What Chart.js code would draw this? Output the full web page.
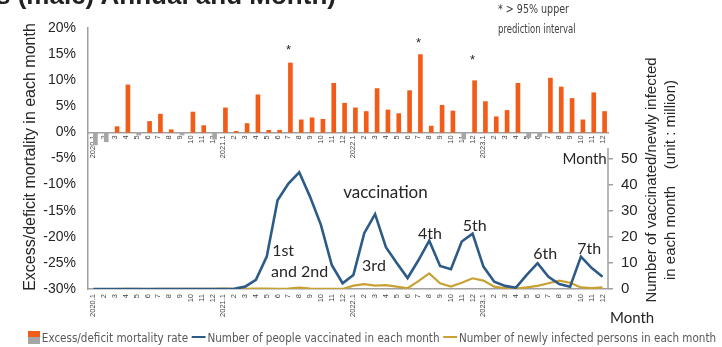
<!DOCTYPE html>
<html><head><meta charset="utf-8">
<script src="https://cdn.jsdelivr.net/npm/chart.js@4/dist/chart.umd.min.js"></script>
<style>
html,body{margin:0;padding:0;background:#fff;overflow:hidden}
#wrap{position:relative;width:722px;height:347px;overflow:hidden}
canvas{position:absolute;left:0;top:0}
.nar{font-family:"Liberation Sans Narrow","Arial Narrow","DejaVu Sans Condensed",sans-serif;position:absolute;white-space:nowrap;color:#404040;transform-origin:0 50%}
#legend{position:absolute;left:28px;top:329px;height:16px;display:flex;align-items:center;font-size:12.5px;color:#595959}
#legend .sw{display:inline-block;width:15px;height:2.5px;margin:0 2px 0 4px}
#legend .box{display:inline-block;width:13px;height:13px;margin-right:2px;background:linear-gradient(#F25C19 0 50%,#A6A6A6 50% 100%)}
#title{position:absolute;left:-4px;top:-20px;font:bold 26px "Liberation Sans",sans-serif;color:#222;white-space:nowrap}
</style></head><body>
<div id="wrap">
<canvas id="c" width="722" height="347"></canvas>
<div id="title">s (male) Annual and Month)</div>
<div class="nar fit" data-w="71" style="left:498px;top:2px;font-size:11.5px">* &gt; 95% upper</div>
<div class="nar fit" data-w="78" style="left:498px;top:22px;font-size:11.5px">prediction interval</div>
<div id="legend" class="nar fit" data-w="688">
<span class="box"></span><span>Excess/deficit mortality rate</span>
<span class="sw" style="background:#2D5B87"></span><span>Number of people vaccinated in each month</span>
<span class="sw" style="background:#C9A032"></span><span>Number of newly infected persons in each month</span>
</div>
</div>
<script>
// ---- data ----
const months = [
 '2020.1','2','3','4','5','6','7','8','9','10','11','12',
 '2021.1','2','3','4','5','6','7','8','9','10','11','12',
 '2022.1','2','3','4','5','6','7','8','9','10','11','12',
 '2023.1','2','3','4','5','6','7','8','9','10','11','12'];
// excess(+)/deficit(-) mortality rate, %
const excessRate = [
 -2.4,-1.8,1.1,9.1,-0.5,2.1,3.5,0.5,-0.5,3.9,1.3,-1.3,
 4.7,0.2,1.7,7.2,0.4,0.4,13.3,2.4,2.8,2.5,9.4,5.6,
 4.7,4.0,8.4,4.3,3.6,8.0,14.9,1.2,5.2,4.1,-1.3,9.9,
 5.9,3.0,4.2,9.4,-1.0,-0.8,10.4,8.7,6.5,2.4,7.6,4.0];
// people vaccinated in each month, million
const vaccinated = [
 0,0,0,0,0,0,0,0,0,0,0,0,
 0,0.1,0.9,3.5,12.4,34.0,40.4,44.7,35.3,24.6,9.2,2.2,
 5.4,21.4,28.7,16.0,10.0,4.2,11.0,18.5,8.8,7.6,18.2,21.2,
 8.6,2.8,1.2,0.5,5.4,9.9,4.7,1.9,0.9,12.4,8.0,4.7];
// newly infected persons in each month, million
const infected = [
 0,0,0,0.01,0.01,0,0.02,0.03,0.02,0.02,0.05,0.1,
 0.15,0.03,0.03,0.13,0.15,0.05,0.19,0.58,0.17,0.01,0.01,0.01,
 1.3,1.9,1.3,1.5,0.9,0.3,3.0,6.0,2.2,0.9,2.4,4.1,
 3.2,0.9,0.3,0.2,0.6,1.2,2.2,3.2,2.4,0.6,0.3,0.6];
// months above the 95% upper prediction interval, and the level of their asterisk (%)
const significant = [{month:18, level:16.3},{month:30, level:17.6},{month:35, level:14.4}];
const leftTicks = {min:-30, max:20, step:5};
const rightTicks = {max:50, step:10};
// wave labels: [text, month position, level in millions, font size]
const waveLabels = [
 ['vaccination',23.05,36.9,17],['1st',16.5,14.6,16],['and 2nd',16.4,6.5,16],['3rd',24.8,8.8,16],
 ['4th',29.95,21.2,16],['5th',34.1,24.2,16],['6th',40.6,13.5,16],['7th',44.65,15.4,16]];

const ORANGE='#F25C19', GREY='#A6A6A6', BLUE='#2D5B87', GOLD='#C9A032', AXIS='#A0A0A0', TXT='#262626';
const tickFont = {family:'"Liberation Sans", Arial, sans-serif'};

// squeeze narrow-font texts to the widths seen in the reference
document.querySelectorAll('.fit').forEach(el => {
  const w = el.scrollWidth, target = +el.dataset.w;
  if (w > 0) el.style.transform = 'scaleX(' + (target / w) + ')';
});

const annot = {
 id:'annot',
 afterDraw(chart){
  const {ctx, chartArea:ca, scales} = chart;
  const xs = scales.x, ys = scales.y, y2 = scales.y2;
  ctx.save();
  ctx.strokeStyle = AXIS; ctx.lineWidth = 1.5;
  ctx.beginPath(); ctx.moveTo(ca.right, y2.getPixelForValue(54)); ctx.lineTo(ca.right, y2.getPixelForValue(0)); ctx.stroke();
  ctx.fillStyle = TXT; ctx.font = '13px "Liberation Sans", sans-serif'; ctx.textAlign='center'; ctx.textBaseline='middle';
  significant.forEach(s => ctx.fillText('*', xs.getPixelForValue(s.month), ys.getPixelForValue(s.level)+3));
  ctx.textAlign='left';
  const step = xs.getPixelForValue(1)-xs.getPixelForValue(0);
  const x0 = xs.getPixelForValue(0);
  waveLabels.forEach(([t,m,v,fs]) => {
    ctx.font = fs+'px Lato, sans-serif';
    ctx.fillText(t, x0 + m*step, y2.getPixelForValue(v));
  });
  ctx.font = '15px Lato, sans-serif';
  ctx.fillText('Month', x0 + 43.3*step, y2.getPixelForValue(49.6));
  ctx.fillText('Month', ca.right + 2, 318);
  ctx.font = '16px "Liberation Sans", sans-serif';
  ctx.textAlign='center';
  ctx.translate(31, 157); ctx.rotate(-Math.PI/2);
  ctx.fillText('Excess/deficit mortality in each month', 0, 0);
  ctx.setTransform(1,0,0,1,0,0);
  ctx.font = '15px "Liberation Sans", sans-serif';
  ctx.translate(652, 180); ctx.rotate(-Math.PI/2);
  ctx.fillText('Number of vaccinated/newly infected', 0, 0);
  ctx.fillText('in each month    (unit : million)', 0, 19);
  ctx.restore();
 }
};

new Chart(document.getElementById('c'), {
 data:{
  labels: months,
  datasets:[
   {type:'line', label:'Number of people vaccinated in each month', data:vaccinated, xAxisID:'x', yAxisID:'y2',
    borderColor:BLUE, borderWidth:2.6, pointRadius:0, tension:0, order:1},
   {type:'line', label:'Number of newly infected persons in each month', data:infected, xAxisID:'x', yAxisID:'y2',
    borderColor:GOLD, borderWidth:2.2, pointRadius:0, tension:0, order:2},
   {type:'bar', label:'Excess/deficit mortality rate', data:excessRate, xAxisID:'xTop', yAxisID:'y',
    backgroundColor: c => (c.raw < 0 ? GREY : ORANGE), barThickness:4, order:3}
  ]
 },
 options:{
  responsive:false, animation:false, devicePixelRatio:1,
  layout:{padding:{top:28,left:0,right:0,bottom:0}},
  plugins:{legend:{display:false}, tooltip:{enabled:false}},
  scales:{
   x:{type:'category', position:'bottom', offset:true,
      grid:{display:false, drawTicks:false}, border:{color:AXIS, width:1.5},
      ticks:{autoSkip:false, maxRotation:90, minRotation:90, padding:5, color:'#444', font:{...tickFont, size:7.5}},
      afterFit:s=>{s.height=58;}},
   xTop:{type:'category', position:{y:0}, offset:true, labels:months,
      grid:{display:false, drawTicks:false}, border:{color:AXIS, width:1.5},
      ticks:{autoSkip:false, maxRotation:90, minRotation:90, padding:3, color:'#444', font:{...tickFont, size:7.5}}},
   y:{type:'linear', position:'left', min:leftTicks.min, max:leftTicks.max,
      grid:{display:false, drawTicks:false}, border:{color:AXIS, width:1.5},
      ticks:{stepSize:leftTicks.step, padding:12, color:TXT, font:{...tickFont, size:14}, callback:v=>v+'%'},
      afterFit:s=>{s.width=88;}},
   y2:{type:'linear', position:'right', min:0, max:rightTicks.max*2,
      grid:{drawOnChartArea:false, drawTicks:true, tickLength:5, color:c=>(c.tick && c.tick.value<=rightTicks.max ? AXIS : 'rgba(0,0,0,0)'), lineWidth:1.5},
      border:{display:false},
      ticks:{stepSize:rightTicks.step, padding:8, color:TXT, font:{...tickFont, size:15}, callback:v=>(v<=rightTicks.max ? v : '')},
      afterFit:s=>{s.width=114;}}
  }
 },
 plugins:[annot]
});
</script>
</body></html>
